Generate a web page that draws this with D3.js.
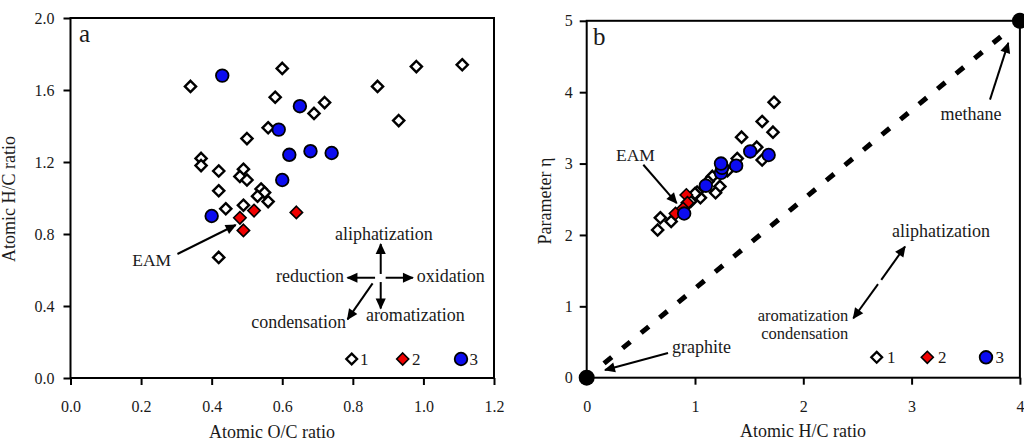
<!DOCTYPE html>
<html>
<head>
<meta charset="utf-8">
<script src="https://cdn.jsdelivr.net/npm/d3@7"></script>
<style>
  body { margin: 0; background: #fff; }
  svg text { font-family: "Liberation Serif", "Times New Roman", serif; fill: #1a1a1a; }
</style>
</head>
<body>
<svg id="chart" width="1024" height="446"></svg>
<script>
// ---- Panel a: atomic O/C (x) vs atomic H/C (y) ----
const groupA1 = [
  [0.34,1.62],[0.60,1.72],[0.58,1.56],[0.72,1.53],[0.69,1.47],[0.87,1.62],[0.98,1.73],
  [1.11,1.74],[0.93,1.43],[0.56,1.39],[0.50,1.33],[0.37,1.22],[0.37,1.18],[0.42,1.15],
  [0.49,1.16],[0.48,1.12],[0.50,1.10],[0.54,1.05],[0.55,1.03],[0.53,1.01],[0.42,1.04],
  [0.56,0.98],[0.44,0.94],[0.49,0.96],[0.42,0.67]
];
const groupA2 = [[0.48,0.89],[0.52,0.93],[0.49,0.82],[0.64,0.92]];
const groupA3 = [[0.43,1.68],[0.65,1.51],[0.59,1.38],[0.62,1.24],[0.68,1.26],[0.74,1.25],[0.60,1.10],[0.40,0.90]];

// ---- Panel b: atomic H/C (x) vs parameter eta (y) ----
const groupB1 = [
  [1.73,3.86],[1.62,3.59],[1.72,3.44],[1.43,3.37],[1.57,3.23],[1.62,3.05],[1.39,3.07],
  [1.30,2.90],[1.16,2.82],[1.12,2.75],[1.23,2.68],[1.19,2.59],[1.05,2.52],[1.02,2.60],
  [1.00,2.58],[0.96,2.47],[0.68,2.24],[0.78,2.19],[0.655,2.07]
];
const groupB2 = [[0.92,2.56],[0.93,2.45],[0.89,2.37],[0.82,2.30]];
const groupB3 = [[1.68,3.12],[1.51,3.17],[1.38,2.97],[1.24,2.87],[1.25,2.94],[1.24,3.00],[1.10,2.69],[0.90,2.30]];

// end members and the graphite-methane trend
const endMembers = [[0,0],[4,5]];
const trendLine = [[0.16,0.20],[3.85,4.81]];

// tick values
const xTicksA = [0,0.2,0.4,0.6,0.8,1.0,1.2];
const yTicksA = [0,0.4,0.8,1.2,1.6,2.0];
const xTicksB = [0,1,2,3,4];
const yTicksB = [0,1,2,3,4,5];
const legendLabels = ["1","2","3"];

const svg = d3.select("#chart");

const xA = d3.scaleLinear().domain([0,1.2]).range([70.5,494]);
const yA = d3.scaleLinear().domain([0,2]).range([378,18]);
const xB = d3.scaleLinear().domain([0,4]).range([586.7,1019.9]);
const yB = d3.scaleLinear().domain([0,5]).range([377.7,20.8]);

// arrowhead
const defs = svg.append("defs");
defs.append("marker").attr("id","head")
  .attr("viewBox","0 -5 10 10").attr("refX",9).attr("refY",0)
  .attr("markerUnits","userSpaceOnUse")
  .attr("markerWidth",12).attr("markerHeight",11).attr("orient","auto")
  .append("path").attr("d","M0,-4.6L10,0L0,4.6Z").attr("fill","#000");

function styleAxis(g) {
  g.select(".domain").remove();
  g.selectAll(".tick line").attr("stroke","#000").attr("stroke-width",2);
  g.selectAll(".tick text").attr("font-size",16).attr("fill","#1a1a1a")
    .attr("font-family","Liberation Serif, serif");
}

function frame(x, y) {
  svg.append("rect")
    .attr("x", x.range()[0]).attr("y", y.range()[1])
    .attr("width", x.range()[1]-x.range()[0])
    .attr("height", y.range()[0]-y.range()[1])
    .attr("fill","none").attr("stroke","#000").attr("stroke-width",2);
}

const dPath = h => `M0,${-h}L${h},0L0,${h}L${-h},0Z`;

function drawPoints(x, y, g1, g2, g3) {
  const g = svg.append("g");
  g.selectAll(".w").data(g1).join("path")
    .attr("d", dPath(5.6))
    .attr("transform", d => `translate(${x(d[0])},${y(d[1])})`)
    .attr("fill","#fff").attr("stroke","#000").attr("stroke-width",2.4);
  g.selectAll(".r").data(g2).join("path")
    .attr("d", dPath(6.2))
    .attr("transform", d => `translate(${x(d[0])},${y(d[1])})`)
    .attr("fill","#f00000").attr("stroke","#000").attr("stroke-width",1.6);
  g.selectAll(".b").data(g3).join("circle")
    .attr("cx", d => x(d[0])).attr("cy", d => y(d[1])).attr("r",6.3)
    .attr("fill","#0c0cf0").attr("stroke","#000").attr("stroke-width",1.8);
}

function legend(items) {
  // items: [symbol, cx, cy, textX]
  items.forEach(([sym, cx, cy, tx], i) => {
    if (sym === "w") svg.append("path").attr("d", dPath(5.4)).attr("transform",`translate(${cx},${cy})`)
      .attr("fill","#fff").attr("stroke","#000").attr("stroke-width",2.3);
    if (sym === "r") svg.append("path").attr("d", dPath(6)).attr("transform",`translate(${cx},${cy})`)
      .attr("fill","#f00000").attr("stroke","#000").attr("stroke-width",1.6);
    if (sym === "b") svg.append("circle").attr("cx",cx).attr("cy",cy).attr("r",6.3)
      .attr("fill","#0c0cf0").attr("stroke","#000").attr("stroke-width",1.8);
    svg.append("text").attr("x",tx).attr("y",cy+6).attr("font-size",17).text(legendLabels[i]);
  });
}

function arrow(x, y, from, to) {
  svg.append("line")
    .attr("x1", x(from[0])).attr("y1", y(from[1]))
    .attr("x2", x(to[0])).attr("y2", y(to[1]))
    .attr("stroke","#000").attr("stroke-width",2).attr("marker-end","url(#head)");
}

function label(x, y, pos, txt, anchor, size) {
  svg.append("text").attr("x", x(pos[0])).attr("y", y(pos[1]))
    .attr("text-anchor", anchor || "start").attr("font-size", size || 18).text(txt);
}

// ===== Panel a =====
svg.append("g").attr("transform",`translate(0,${yA(0)})`)
  .call(d3.axisBottom(xA).tickValues(xTicksA).tickSize(7).tickPadding(16).tickFormat(d3.format(".1f")))
  .call(styleAxis);
svg.append("g").attr("transform",`translate(${xA(0)},0)`)
  .call(d3.axisLeft(yA).tickValues(yTicksA).tickSize(7).tickPadding(9).tickFormat(d3.format(".1f")))
  .call(styleAxis);
frame(xA, yA);

svg.append("text").attr("x",79).attr("y",42).attr("font-size",25).text("a");
svg.append("text").attr("x",272).attr("y",438).attr("text-anchor","middle").attr("font-size",18).text("Atomic O/C ratio");
svg.append("text").attr("transform","translate(15,199) rotate(-90)").attr("text-anchor","middle")
  .attr("font-size",18).text("Atomic H/C ratio");

drawPoints(xA, yA, groupA1, groupA2, groupA3);

// EAM callout
label(xA, yA, [0.23,0.62], "EAM", "middle", 17.5);
arrow(xA, yA, [0.303,0.689], [0.468,0.85]);

// process cross
arrow(xA, yA, [0.879,0.578], [0.879,0.744]);
arrow(xA, yA, [0.863,0.557], [0.785,0.557]);
arrow(xA, yA, [0.893,0.557], [0.970,0.557]);
arrow(xA, yA, [0.879,0.533], [0.879,0.386]);
arrow(xA, yA, [0.856,0.526], [0.785,0.326]);
label(xA, yA, [0.888,0.767], "aliphatization", "middle");
label(xA, yA, [0.775,0.535], "reduction", "end");
label(xA, yA, [0.981,0.535], "oxidation", "start");
label(xA, yA, [0.837,0.318], "aromatization", "start");
label(xA, yA, [0.781,0.276], "condensation", "end");

legend([["w",351.7,359,360],["r",402.7,359,412],["b",461,359,469.5]]);

// ===== Panel b =====
svg.append("g").attr("transform",`translate(0,${yB(0)})`)
  .call(d3.axisBottom(xB).tickValues(xTicksB).tickSize(7).tickPadding(15.5).tickFormat(d3.format("d")))
  .call(styleAxis);
svg.append("g").attr("transform",`translate(${xB(0)},0)`)
  .call(d3.axisLeft(yB).tickValues(yTicksB).tickSize(7).tickPadding(7).tickFormat(d3.format("d")))
  .call(styleAxis);
frame(xB, yB);

svg.append("text").attr("x",593).attr("y",45).attr("font-size",25).text("b");
svg.append("text").attr("x",803).attr("y",437).attr("text-anchor","middle").attr("font-size",18).text("Atomic H/C ratio");
svg.append("text").attr("transform","translate(551,201) rotate(-90)").attr("text-anchor","middle")
  .attr("font-size",18).text("Parameter η");

// graphite-methane trend
svg.append("line")
  .attr("x1", xB(trendLine[0][0])).attr("y1", yB(trendLine[0][1]))
  .attr("x2", xB(trendLine[1][0])).attr("y2", yB(trendLine[1][1]))
  .attr("stroke","#000").attr("stroke-width",5).attr("stroke-dasharray","10,14");

drawPoints(xB, yB, groupB1, groupB2, groupB3);

svg.selectAll(".end").data(endMembers).join("circle")
  .attr("cx", d => xB(d[0])).attr("cy", d => yB(d[1])).attr("r",8).attr("fill","#000");

label(xB, yB, [0.45,3.03], "EAM", "middle", 17.5);
arrow(xB, yB, [0.523,2.983], [0.831,2.446]);

label(xB, yB, [0.788,0.342], "graphite", "start");
arrow(xB, yB, [0.751,0.346], [0.169,0.108]);

label(xB, yB, [3.549,3.614], "methane", "middle");
arrow(xB, yB, [3.724,3.895], [3.893,4.69]);

arrow(xB, yB, [2.72,1.37], [2.939,1.837]);
arrow(xB, yB, [2.69,1.31], [2.462,0.833]);
label(xB, yB, [3.271,1.978], "aliphatization", "middle");
// two-line caption beside the lower arrowhead
label(xB, yB, [2.416,0.798], "aromatization", "end", 16.5);
label(xB, yB, [2.416,0.543], "condensation", "end", 16.5);

legend([["w",876.7,357.3,887],["r",927.3,357.3,938],["b",986,357.3,995.5]]);
</script>
</body>
</html>
